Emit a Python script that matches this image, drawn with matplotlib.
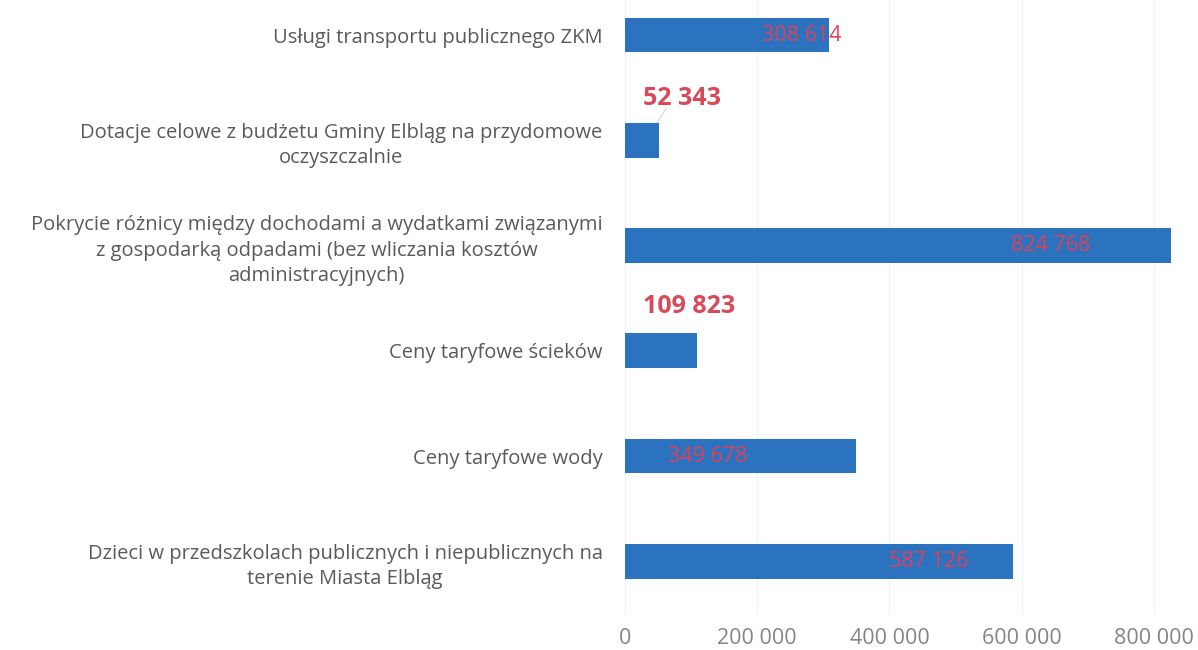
import matplotlib
matplotlib.use("Agg")
import matplotlib.pyplot as plt

categories = [
    "Usługi transportu publicznego ZKM",
    "Dotacje celowe z budżetu Gminy Elbląg na przydomowe\noczyszczalnie",
    "Pokrycie różnicy między dochodami a wydatkami związanymi\nz gospodarką odpadami (bez wliczania kosztów\nadministracyjnych)",
    "Ceny taryfowe ścieków",
    "Ceny taryfowe wody",
    "Dzieci w przedszkolach publicznych i niepublicznych na\nterenie Miasta Elbląg",
]
values = [308614, 52343, 824768, 109823, 349678, 587126]
value_labels = ["308 614", "52 343", "824 768", "109 823", "349 678", "587 126"]
xticks = [0, 200000, 400000, 600000, 800000]
xtick_labels = ["0", "200 000", "400 000", "600 000", "800 000"]

# label placement (x in data units, y offset in category units, bold/outside)
label_x = [268000, 87000, 644000, 98000, 125000, 459000]
label_dy = [0, -0.4, 0, -0.42, 0, 0]
label_outside = [False, True, False, True, False, False]

plt.rcParams['font.family'] = ['Open Sans', 'DejaVu Sans']

fig = plt.figure(figsize=(11.98, 6.5), dpi=100)
ax = fig.add_axes([622/1198, 35/650, 1 - 622/1198, 1 - 35/650])

ypos = list(range(len(categories)))
ax.barh(ypos, values, height=0.33, color="#2b73bf", zorder=3)

ax.set_ylim(5.51, -0.333)
ax.set_xlim(-4000, 866000)
ax.set_xticks(xticks)
ax.set_xticklabels(xtick_labels, color="#858585", fontsize=15.5)
ax.set_yticks(ypos)
ax.set_yticklabels(categories, color="#5a5a5a", fontsize=14.5, ha="right",
                   multialignment="center", linespacing=1.35)
ax.tick_params(axis="both", length=0)
ax.tick_params(axis="x", pad=9)
ax.tick_params(axis="y", pad=14)
for s in ax.spines.values():
    s.set_visible(False)
ax.xaxis.grid(True, color="#f3f3f3", linewidth=1, zorder=0)

for i, (lx, dy, out, lab) in enumerate(zip(label_x, label_dy, label_outside, value_labels)):
    if out:
        ax.text(lx, i + dy, lab, color="#d84a58", fontsize=18, fontweight="bold",
                ha="center", va="center", zorder=4)
        if i == 1:
            ax.plot([values[i] * 0.8, values[i] * 1.2], [i - 0.1, i - 0.3],
                    color="#dddddd", lw=1, zorder=2)
    else:
        ax.text(lx, i, lab, color="#e0405a", fontsize=15.5,
                ha="center", va="center", zorder=4)

fig.savefig("out.png", dpi=100, facecolor="white")
